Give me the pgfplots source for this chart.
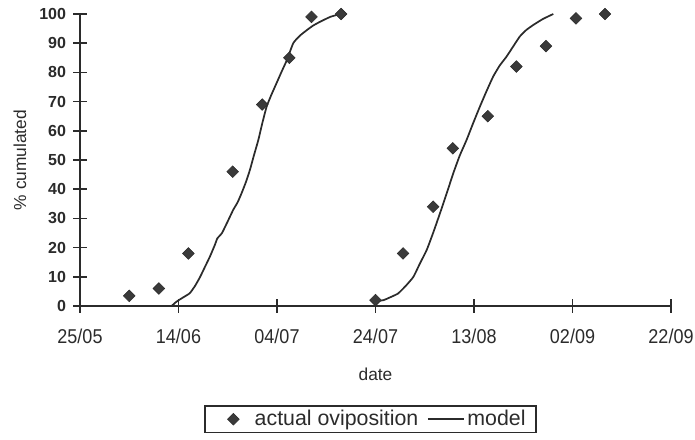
\documentclass[border=0pt]{standalone}
\usepackage{pgfplots}
\pgfplotsset{compat=1.18}
\usepackage{fontspec}
\setmainfont{Liberation Sans}
\newfontfamily\narrowfont[FakeStretch=0.9]{Liberation Sans}
\definecolor{ink}{HTML}{2B2B2B}
\definecolor{markfill}{HTML}{3A3A3A}
\pgfplotsset{
  modellegend/.style={legend image code/.code={\draw[##1] (0pt,0pt) -- (27pt,0pt);}},
  marklegend/.style={legend image code/.code={%
    \path[draw=none, fill=none] (0pt,0pt) -- (29.5pt,0pt);
    \draw[##1] plot coordinates {(15.5pt,0pt)};}},
}

% days counted from 25/05
\pgfplotstableread{
day  pct
10    3.5
16    6
22   18
31   46
37   69
42.5 85
47   99
53  100
60    2
65.6 18
71.7 34
75.7 54
82.8 65
88.6 82
94.6 89
100.7 98.5
106.6 100
}\observed

\pgfplotstableread{
day pct
18.6 0
19.6 1.5
21   3
22.3 4.4
23.4 7
24.4 10
25.4 13.5
26.4 17
27.4 21
27.9 23.2
28.8 24.9
30   29
31.1 32.9
32   35.5
32.8 38.6
33.7 42.5
34.5 46.6
35.3 51.5
36.2 56.8
37   62.5
37.9 68.3
38.9 72.5
39.9 76.3
41   80.5
42   84.2
43.3 90
44.6 92.5
46   94.4
47.3 96
48.7 97.3
50.8 99
52.8 100
}\modelA

\pgfplotstableread{
day pct
59.6 1.5
61.6 2
63   3
64.6 4.3
66.2 7
67.7 10
69   14.5
70.4 19.2
71.8 25.5
73.1 31.8
74.5 38.8
75.8 45.5
77.1 51.5
78.5 56.9
79.8 62.5
81.2 68.3
82.6 73.8
83.9 78.6
85.2 82.3
86.6 85.4
88   89
89.3 92.3
90.6 94.5
92   96.2
94   98.3
96.1 100
}\modelB

\begin{document}
\begin{tikzpicture}
\begin{axis}[
  scale only axis,
  width=443.25pt, height=219pt,
  xmin=0, xmax=120, ymin=0, ymax=100,
  axis lines=left,
  axis line style={-, ink, line width=1.4pt},
  clip=false,
  xtick={0,20,...,120},
  xticklabels={25/05,14/06,04/07,24/07,13/08,02/09,22/09},
  ytick={0,10,...,100},
  tick align=center,
  major tick length=10pt,
  tick style={ink, line width=1.1pt},
  /pgf/number format/assume math mode=true,
  xticklabel style={font=\narrowfont\fontsize{15}{17}\selectfont, text=ink, anchor=north, yshift=-9pt},
  yticklabel style={font=\bfseries\fontsize{12}{14}\selectfont, text=ink, anchor=east, xshift=-2pt},
  xlabel={date},
  xlabel style={font=\fontsize{13}{15}\selectfont, text=ink, at={(axis description cs:0.5,-0.233)}, anchor=center},
  ylabel={\% cumulated},
  ylabel style={font=\fontsize{13}{15}\selectfont, text=ink, at={(axis description cs:-0.1015,0.5)}, anchor=center},
  legend style={at={(axis description cs:0.4915,-0.339)}, anchor=north,
    draw=ink, line width=1.2pt, legend columns=2,
    font=\fontsize{16}{18}\selectfont, text=ink,
    inner xsep=6pt, inner ysep=1.5pt,
    /tikz/every even column/.append style={column sep=4.5pt}},
]
\addplot[only marks, mark=square*, mark size=3.1pt,
  mark options={rotate=45, fill=markfill, draw=ink, line width=0.4pt}, marklegend]
  table[x=day, y=pct] {\observed};
\addlegendentry{actual oviposition}
\addplot[ink, line width=1.3pt, smooth, tension=0.3, modellegend]
  table[x=day, y=pct] {\modelA};
\addlegendentry{model}
\addplot[ink, line width=1.3pt, smooth, tension=0.3, forget plot]
  table[x=day, y=pct] {\modelB};
\end{axis}
\pgfresetboundingbox
\path ([xshift=-60pt,yshift=-99.75pt]current axis.south west) rectangle ([xshift=18pt,yshift=10.5pt]current axis.north east);
\end{tikzpicture}
\end{document}
